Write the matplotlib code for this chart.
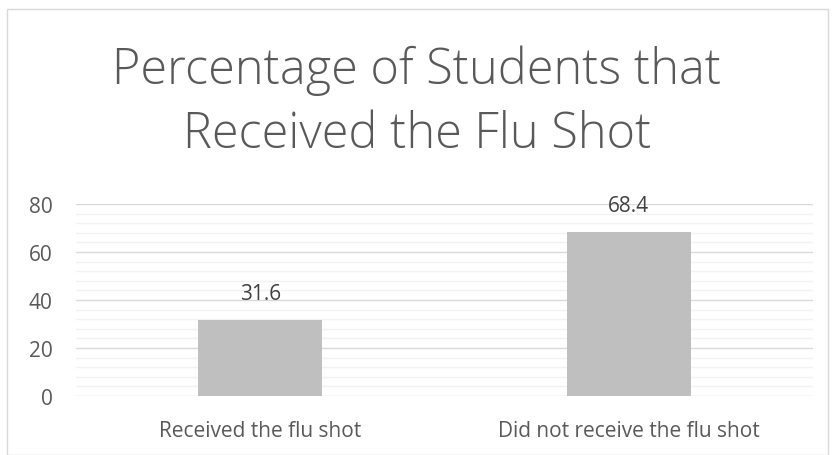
import matplotlib.pyplot as plt
from matplotlib.patches import Rectangle
from matplotlib.ticker import MultipleLocator

categories = ['Received the flu shot', 'Did not receive the flu shot']
values = [31.6, 68.4]
title = 'Percentage of Students that\nReceived the Flu Shot'

plt.rcParams['font.family'] = ['Open Sans', 'DejaVu Sans']

fig = plt.figure(figsize=(8.35, 4.56), dpi=100)
fig.patches.append(Rectangle((7 / 835, 0), 821 / 835, 446 / 456, transform=fig.transFigure,
                             fill=False, edgecolor='#D9D9D9', linewidth=1))

ax = fig.add_axes([76 / 835, 59 / 456, 737 / 835, 192 / 456])
x = range(len(categories))
ax.bar(x, values, width=0.336, color='#BFBFBF', zorder=3)
for xi, v in zip(x, values):
    ax.text(xi, v + 8.7, f'{v}', ha='center', va='baseline', fontsize=15, color='#404040')

ax.set_xlim(-0.5, 1.5)
ax.set_ylim(0, 80)
ax.yaxis.set_major_locator(MultipleLocator(20))
ax.yaxis.set_minor_locator(MultipleLocator(4))
ax.grid(axis='y', which='minor', color='#F2F2F2', linewidth=1, zorder=0)
ax.grid(axis='y', which='major', color='#D9D9D9', linewidth=1, zorder=1)
ax.set_xticks(list(x))
ax.set_xticklabels(categories)
ax.tick_params(axis='both', which='both', length=0, labelsize=15, colors='#595959')
ax.tick_params(axis='x', pad=17)
ax.tick_params(axis='y', pad=17)
for s in ax.spines.values():
    s.set_visible(False)

fig.text(417 / 835, 1 - 103 / 456, title, ha='center', va='center', fontsize=35,
         color='#595959', fontweight='light', linespacing=1.38)

fig.savefig('out.png', dpi=100)
